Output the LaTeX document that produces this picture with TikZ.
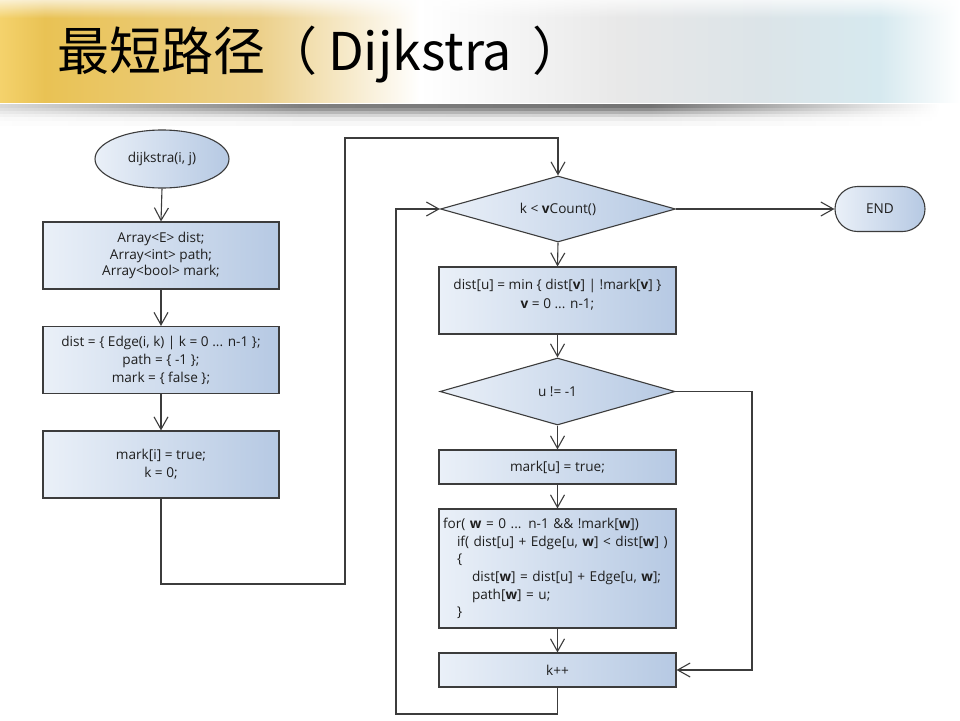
\documentclass[tikz,border=0pt]{standalone}
\usepackage{fontspec}
\setmainfont{Open Sans}
\newfontfamily\cjkfont{Noto Sans CJK SC}
\usetikzlibrary{shapes.geometric,shapes.misc,arrows.meta,fadings}
\definecolor{lnc}{HTML}{3C3C3C}
\definecolor{fl}{HTML}{EAF0F8}
\definecolor{fr}{HTML}{B6C9E3}
\definecolor{txc}{HTML}{1E1E1E}
\begin{document}
\begin{tikzpicture}[x=1pt,y=-1pt,
  every node/.style={text=txc},
  shapebase/.style={draw=lnc, line width=1.1pt, left color=fl, right color=fr, inner sep=0pt},
  boxnode/.style={shapebase, rectangle, minimum width=236pt, align=center},
  ellnode/.style={shapebase, ellipse, minimum width=134pt, minimum height=58pt},
  decnode/.style={shapebase, diamond, aspect=3.5, minimum width=235pt, minimum height=66pt},
  endnode/.style={shapebase, rounded rectangle, minimum width=90pt, minimum height=45pt},
  txt/.style={font=\fontsize{13.6}{18}\selectfont},
  arr/.style={draw=lnc, line width=1.1pt, -{Straight Barb[length=12.5pt,width=14pt]}},
  ln/.style={draw=lnc, line width=1.1pt}
]
\useasboundingbox (0,0) rectangle (960,720);
\fill[white] (0,0) rectangle (960,720);
% header band
\shade[left color={rgb,255:red,244;green,210;blue,108}, right color={rgb,255:red,233;green,194;blue,84}] (0,0) rectangle (45,102.5);
\shade[left color={rgb,255:red,233;green,194;blue,84}, right color={rgb,255:red,236;green,208;blue,138}] (44.5,0) rectangle (260,102.5);
\shade[left color={rgb,255:red,236;green,208;blue,138}, right color=white] (259.5,0) rectangle (420,102.5);
\shade[left color=white, right color={rgb,255:red,232;green,232;blue,232}] (419.5,0) rectangle (620,102.5);
\shade[left color={rgb,255:red,232;green,232;blue,232}, right color={rgb,255:red,220;green,228;blue,232}] (619.5,0) rectangle (760,102.5);
\shade[left color={rgb,255:red,220;green,228;blue,232}, right color={rgb,255:red,214;green,233;blue,239}] (759.5,0) rectangle (880,102.5);
\shade[left color={rgb,255:red,214;green,233;blue,239}, right color=white] (879.5,0) rectangle (960,102.5);
\fill[white, opacity=0.7, path fading=south] (0,0) rectangle (960,18);
% shadow below the band
\foreach \ya/\yb/\f in {104/108/1, 108/111/0.8, 111/114/0.55, 114/117/0.32, 117/121/0.14, 121/125/0.06}{
  \pgfmathsetmacro\gA{15*\f}\pgfmathsetmacro\gB{50*\f}\pgfmathsetmacro\gC{55*\f}\pgfmathsetmacro\gD{30*\f}\pgfmathsetmacro\gE{10*\f}
  \shade[left color=black!\gA, right color=black!\gB] (0,\ya) rectangle (300.5,\yb);
  \shade[left color=black!\gB, right color=black!\gC] (300,\ya) rectangle (650.5,\yb);
  \shade[left color=black!\gC, right color=black!\gD] (650,\ya) rectangle (780.5,\yb);
  \shade[left color=black!\gD, right color=black!\gE] (780,\ya) rectangle (880.5,\yb);
  \shade[left color=black!\gE, right color=white] (880,\ya) rectangle (940,\yb);
}
% title
\node[anchor=base west, inner sep=0pt, font=\cjkfont\fontsize{52}{52}\selectfont, text=black] (title) at (57,70) {最短路径（\hspace{11pt}Dijkstra\hspace{20pt}）};

% left column
\node[ellnode, txt] (start) at (162,159) {dijkstra(i, j)};
\node[boxnode, minimum height=67pt, font=\fontsize{13.6}{16.8}\selectfont] (b1) at (161,255.5) {Array<E> dist;\\Array<int> path;\\Array<bool> mark;};
\node[boxnode, minimum height=67pt, txt] (b2) at (161,360) {dist = \{ Edge(i, k) | k = 0 ... n-1 \};\\path = \{ -1 \};\\mark = \{ false \};};
\node[boxnode, minimum height=67pt, txt] (b3) at (161,464.5) {mark[i] = true;\\k = 0;};

% right column
\node[decnode, txt] (d1) at (558,209) {k < \textbf{v}Count()};
\node[endnode, txt] (end) at (880,209) {END};
\node[boxnode, minimum height=67pt, minimum width=237pt] (b4) at (557.5,300.5) {};
\node[txt, align=center, font=\fontsize{13.6}{19}\selectfont, inner sep=0pt] (b4t) at (557.5,294.5) {dist[u] = min \{ dist[\textbf{v}] | !mark[\textbf{v}] \}\\\textbf{v} = 0 ... n-1;};
\node[decnode, txt, minimum height=67pt] (d2) at (557.5,391.5) {u != -1};
\node[boxnode, minimum height=34pt, minimum width=237pt, txt] (b5) at (557.5,467) {mark[u] = true;};
\node[boxnode, minimum height=119pt, minimum width=237pt, align=left, text width=229pt, inner xsep=4pt, font=\fontsize{13.6}{17.6}\selectfont] (b6) at (557.5,568.5) {for( \textbf{w} = 0 ... n-1 \&\& !mark[\textbf{w}])\\
\hspace*{14pt}if( dist[u] + Edge[u, \textbf{w}] < dist[\textbf{w}] )\\
\hspace*{14pt}\{\\
\hspace*{29pt}dist[\textbf{w}] = dist[u] + Edge[u, \textbf{w}];\\
\hspace*{29pt}path[\textbf{w}] = u;\\
\hspace*{14pt}\}};
\node[boxnode, minimum height=34pt, minimum width=237pt, txt] (b7) at (557.5,670) {k++};

\coordinate (c2) at (345,584);
\coordinate (c3) at (345,138);
\coordinate (c4) at (752,670);
\coordinate (c5) at (396,714);

% connectors
\draw[arr] (start.south) -- (b1.north);
\draw[arr] (b1.south) -- (b2.north);
\draw[arr] (b2.south) -- (b3.north);
\draw[arr] (b3.south) |- (c2) -- (c3) -| (d1.north);
\draw[arr] (d1.east) -- (end.west);
\draw[arr] (d1.south) -- (b4.north);
\draw[arr] (b4.south) -- (d2.north);
\draw[arr] (d2.south) -- (b5.north);
\draw[arr] (b5.south) -- (b6.north);
\draw[arr] (b6.south) -- (b7.north);
\draw[arr] (d2.east) -| (c4) -- (b7.east);
\draw[arr] (b7.south) |- (c5) |- (d1.west);
\end{tikzpicture}
\end{document}
